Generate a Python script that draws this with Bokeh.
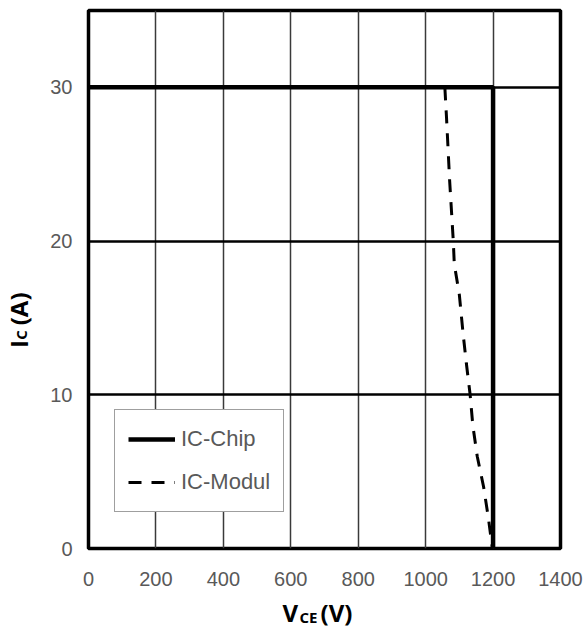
import math
from bokeh.plotting import figure
from bokeh.models import Range1d, Legend, LegendItem, FixedTicker
from bokeh.layouts import column, row
from bokeh.core.properties import value
from bokeh.embed import file_html
from bokeh.resources import INLINE

# data
chip_v = [0, 1200, 1200]
chip_i = [30, 30, 0]
modul_v = [1057, 1062, 1071, 1082, 1085, 1100, 1111, 1121, 1132, 1140, 1153, 1172, 1186, 1198]
modul_i = [30, 28, 24, 20, 18.5, 16.5, 14, 12, 10, 8, 6, 4, 2, 0]
x_ticks = [0, 200, 400, 600, 800, 1000, 1200, 1400]
y_ticks = [0, 10, 20, 30]

YLAB_W = 40
MAIN_W = 543
MAIN_H = 593
XLAB_H = 40

p = figure(width=MAIN_W, height=MAIN_H, output_backend="svg", toolbar_location=None,
           x_range=Range1d(0, 1400), y_range=Range1d(0, 35),
           min_border_left=48, min_border_right=23, min_border_top=10, min_border_bottom=45)
p.background_fill_color = "white"
p.border_fill_color = "white"
p.outline_line_color = "black"
p.outline_line_width = 3.5

tick_font = "Liberation Sans"
for ax in (p.xaxis[0], p.yaxis[0]):
    ax.axis_line_color = None
    ax.major_tick_line_color = None
    ax.minor_tick_line_color = None
    ax.major_tick_out = 0
    ax.major_tick_in = 0
    ax.minor_tick_out = 0
    ax.major_label_text_font = tick_font
    ax.major_label_text_font_size = "20px"
    ax.major_label_text_color = "#595959"
p.xaxis[0].ticker = FixedTicker(ticks=x_ticks)
p.yaxis[0].ticker = FixedTicker(ticks=y_ticks)
p.xaxis[0].major_label_standoff = 23
p.yaxis[0].major_label_standoff = 16

p.xgrid.grid_line_color = "#3a3a3a"
p.xgrid.grid_line_width = 1.5
p.xgrid.ticker = FixedTicker(ticks=x_ticks)
p.ygrid.grid_line_color = "black"
p.ygrid.grid_line_width = 2.5
p.ygrid.ticker = FixedTicker(ticks=y_ticks)

r_chip = p.line(chip_v, chip_i, line_color="black", line_width=4.5)
r_mod = p.line(modul_v, modul_i, line_color="black", line_width=3, line_dash="13 10")

legend = Legend(items=[LegendItem(label="IC-Chip", renderers=[r_chip]),
                       LegendItem(label="IC-Modul", renderers=[r_mod])],
                location=(26, 36), padding=13, spacing=11,
                label_height=32, glyph_height=32, glyph_width=47, label_standoff=6,
                label_text_font=tick_font, label_text_font_size="22px",
                label_text_color="#595959",
                border_line_color="#404040", border_line_width=1.5,
                background_fill_color="white", background_fill_alpha=1.0)
p.add_layout(legend, "center")


def blank(w, h):
    f = figure(width=w, height=h, output_backend="svg", toolbar_location=None,
               x_range=Range1d(0, w), y_range=Range1d(0, h),
               x_axis_type=None, y_axis_type=None,
               min_border=0, min_border_left=0, min_border_right=0,
               min_border_top=0, min_border_bottom=0)
    f.outline_line_color = None
    f.grid.visible = False
    f.background_fill_color = "white"
    f.border_fill_color = "white"
    return f


lab_font = value("Open Sans")

# y-axis label: I_C (A), rotated
fy = blank(YLAB_W, MAIN_H)
fy.text(x=[18], y=[221], text=["I"], angle=math.pi / 2, text_font=lab_font,
        text_font_style="bold", text_font_size="24px", text_color="black",
        text_align="left", text_baseline="alphabetic")
fy.text(x=[20], y=[230], text=["C"], angle=math.pi / 2, text_font=lab_font,
        text_font_style="bold", text_font_size="15px", text_color="black",
        text_align="left", text_baseline="alphabetic")
fy.text(x=[18], y=[246], text=["(A)"], angle=math.pi / 2, text_font=lab_font,
        text_font_style="bold", text_font_size="24px", text_color="black",
        text_align="left", text_baseline="alphabetic")

# x-axis label: V_CE (V)
fx = blank(YLAB_W + MAIN_W, XLAB_H)
fx.text(x=[282], y=[21], text=["V"], text_font=lab_font,
        text_font_style="bold", text_font_size="24px", text_color="black",
        text_align="left", text_baseline="alphabetic")
fx.text(x=[299], y=[17], text=["CE"], text_font=lab_font,
        text_font_style="bold", text_font_size="15px", text_color="black",
        text_align="left", text_baseline="alphabetic")
fx.text(x=[320], y=[21], text=["(V)"], text_font=lab_font,
        text_font_style="bold", text_font_size="24px", text_color="black",
        text_align="left", text_baseline="alphabetic")

layout = column(row(fy, p), fx)
open("out.html", "w").write(file_html(layout, INLINE))
